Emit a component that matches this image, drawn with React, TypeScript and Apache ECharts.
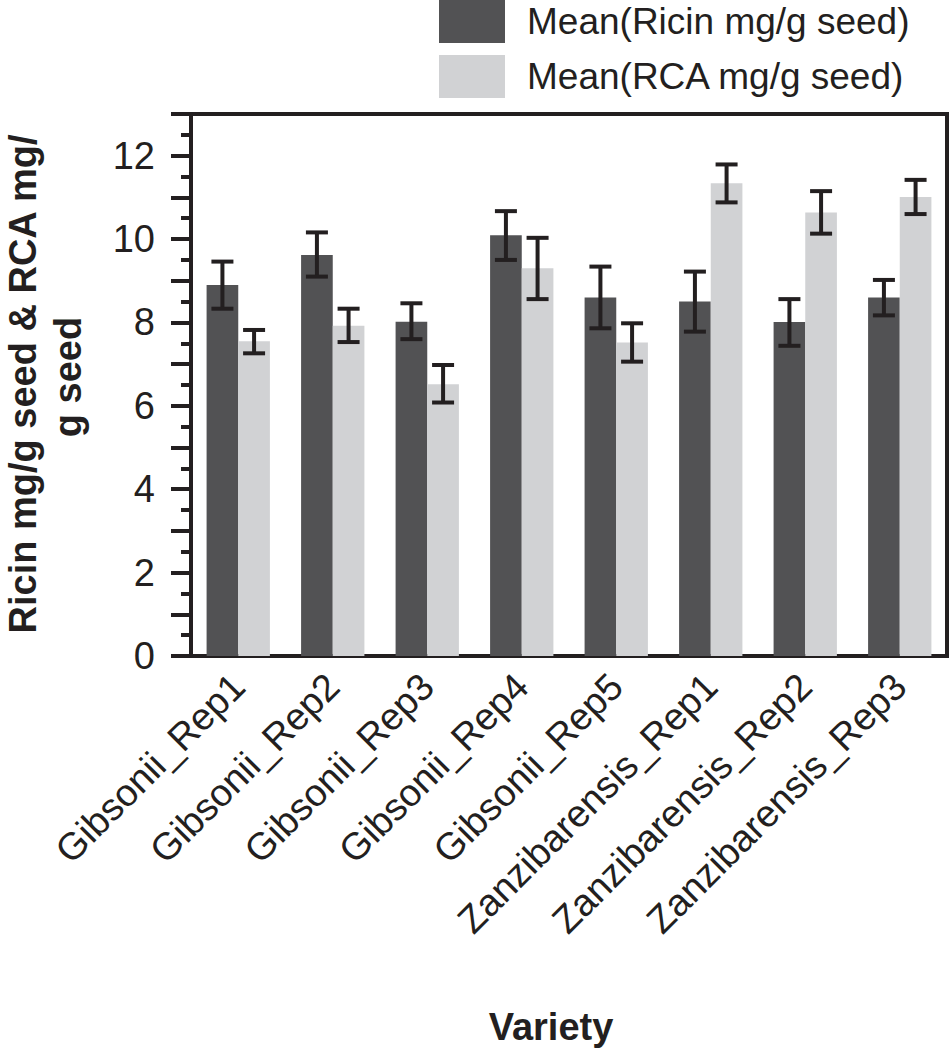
import React, { useEffect, useRef } from "react";
import * as echarts from "echarts";

const categories = [
  "Gibsonii_Rep1",
  "Gibsonii_Rep2",
  "Gibsonii_Rep3",
  "Gibsonii_Rep4",
  "Gibsonii_Rep5",
  "Zanzibarensis_Rep1",
  "Zanzibarensis_Rep2",
  "Zanzibarensis_Rep3",
];
const ricinMean = [8.9, 9.62, 8.02, 10.09, 8.6, 8.5, 8.01, 8.6];
const ricinLow = [8.33, 9.1, 7.6, 9.5, 7.86, 7.78, 7.44, 8.17];
const ricinHigh = [9.46, 10.16, 8.46, 10.67, 9.34, 9.22, 8.56, 9.02];
const rcaMean = [7.55, 7.92, 6.52, 9.3, 7.52, 11.34, 10.64, 11.01];
const rcaLow = [7.26, 7.53, 6.08, 8.56, 7.06, 10.88, 10.13, 10.6];
const rcaHigh = [7.82, 8.33, 6.98, 10.03, 7.98, 11.79, 11.15, 11.42];
const seriesNames = ["Mean(Ricin mg/g seed)", "Mean(RCA mg/g seed)"];
const yTitleLines = ["Ricin mg/g seed & RCA mg/", "g seed"];
const xTitle = "Variety";

const FONT = "'Liberation Sans', Arial, Helvetica, sans-serif";
const BLACK = "#231f20";
const DARK = "#525254";
const LIGHT = "#d1d2d4";
const GAP = 0.33;

function errorRender(side: number) {
  return (params: any, api: any) => {
    const i = api.value(0);
    const lo = api.value(1);
    const hi = api.value(2);
    const band = api.size([1, 0])[0];
    const barW = (band * (1 - GAP)) / 2;
    const pLo = api.coord([i, lo]);
    const pHi = api.coord([i, hi]);
    const x = pLo[0] + (side * barW) / 2;
    const cap = 11;
    const style = { stroke: BLACK, lineWidth: 4 };
    return {
      type: "group",
      children: [
        { type: "line", shape: { x1: x, y1: pLo[1], x2: x, y2: pHi[1] }, style },
        { type: "line", shape: { x1: x - cap, y1: pHi[1], x2: x + cap, y2: pHi[1] }, style },
        { type: "line", shape: { x1: x - cap, y1: pLo[1], x2: x + cap, y2: pLo[1] }, style },
      ],
    };
  };
}

export default function App() {
  const ref = useRef<HTMLDivElement>(null);
  useEffect(() => {
    document.body.style.margin = "0";
    const chart = echarts.init(ref.current!, null, { renderer: "svg" });
    chart.setOption({
      animation: false,
      backgroundColor: "#ffffff",
      textStyle: { fontFamily: FONT },
      legend: {
        orient: "vertical",
        left: 434,
        top: -5,
        itemWidth: 66,
        itemHeight: 43,
        itemGap: 12,
        icon: "rect",
        selectedMode: false,
        data: seriesNames,
        textStyle: {
          fontFamily: FONT,
          fontSize: 37,
          color: BLACK,
          padding: [0, 0, 0, 17],
        },
      },
      grid: {
        left: 191,
        right: 3,
        top: 114,
        bottom: 394,
        show: true,
        borderColor: BLACK,
        borderWidth: 4,
        containLabel: false,
      },
      xAxis: {
        type: "category",
        data: categories,
        axisTick: { show: false },
        axisLine: { show: true, lineStyle: { color: BLACK, width: 4 } },
        axisLabel: {
          interval: 0,
          rotate: 45,
          fontSize: 38,
          fontFamily: FONT,
          color: BLACK,
          margin: 24,
        },
      },
      yAxis: {
        type: "value",
        min: 0,
        max: 13,
        interval: 1,
        splitLine: { show: false },
        axisLine: { show: true, lineStyle: { color: BLACK, width: 4 } },
        axisTick: { show: true, inside: false, length: 20, lineStyle: { color: BLACK, width: 4 } },
        minorTick: { show: true, splitNumber: 2, length: 10, lineStyle: { color: BLACK, width: 4 } },
        axisLabel: {
          fontSize: 38,
          fontFamily: FONT,
          color: BLACK,
          margin: 36,
          formatter: (v: number) => (v % 2 === 0 ? String(v) : ""),
        },
      },
      series: [
        {
          name: seriesNames[0],
          type: "bar",
          data: ricinMean,
          barGap: "0%",
          barCategoryGap: GAP * 100 + "%",
          itemStyle: { color: DARK },
        },
        {
          name: seriesNames[1],
          type: "bar",
          data: rcaMean,
          barGap: "0%",
          barCategoryGap: GAP * 100 + "%",
          itemStyle: { color: LIGHT },
        },
        {
          type: "custom",
          renderItem: errorRender(-1),
          data: ricinLow.map((lo, i) => [i, lo, ricinHigh[i]]),
          encode: { x: 0, y: [1, 2] },
          z: 10,
        },
        {
          type: "custom",
          renderItem: errorRender(1),
          data: rcaLow.map((lo, i) => [i, lo, rcaHigh[i]]),
          encode: { x: 0, y: [1, 2] },
          z: 10,
        },
      ],
      graphic: [
        {
          type: "text",
          x: 23,
          y: 384,
          rotation: Math.PI / 2,
          style: {
            text: yTitleLines[0],
            font: `bold 38px ${FONT}`,
            fill: BLACK,
            textAlign: "center",
            textVerticalAlign: "middle",
          },
        },
        {
          type: "text",
          x: 68,
          y: 377,
          rotation: Math.PI / 2,
          style: {
            text: yTitleLines[1],
            font: `bold 38px ${FONT}`,
            fill: BLACK,
            textAlign: "center",
            textVerticalAlign: "middle",
          },
        },
        {
          type: "text",
          x: 551,
          y: 1027,
          style: {
            text: xTitle,
            font: `bold 38px ${FONT}`,
            fill: BLACK,
            textAlign: "center",
            textVerticalAlign: "middle",
          },
        },
      ],
    });
    return () => chart.dispose();
  }, []);
  return <div ref={ref} style={{ width: 950, height: 1050 }} />;
}
